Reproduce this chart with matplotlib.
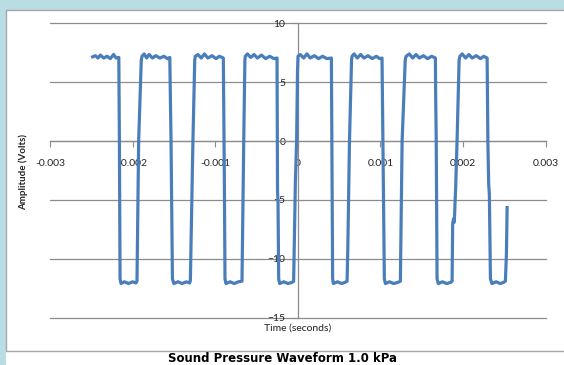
import numpy as np
import matplotlib.pyplot as plt
from matplotlib.patches import Rectangle

# waveform (time in ms, amplitude in volts)
time_ms = [
    -2.484, -2.45, -2.42, -2.39, -2.35, -2.31, -2.27, -2.23, -2.20, -2.167,
    -2.160, -2.152, -2.14, -2.10, -2.05, -2.00, -1.96, -1.947,
    -1.927, -1.895, -1.886,
    -1.86, -1.83, -1.80, -1.76, -1.72, -1.67, -1.62, -1.58, -1.550,
    -1.535, -1.518, -1.50, -1.45, -1.40, -1.35, -1.31, -1.301,
    -1.270, -1.248, -1.241,
    -1.21, -1.17, -1.13, -1.09, -1.04, -0.99, -0.95, -0.902,
    -0.893, -0.890, -0.882, -0.87, -0.82, -0.77, -0.72, -0.676,
    -0.655, -0.641, -0.636,
    -0.61, -0.57, -0.53, -0.49, -0.44, -0.39, -0.34, -0.29, -0.252,
    -0.248, -0.246, -0.240, -0.232, -0.22, -0.17, -0.12, -0.07, -0.051,
    -0.039, -0.030, -0.015, -0.004, 0.002,
    0.03, 0.07, 0.11, 0.15, 0.20, 0.25, 0.30, 0.35, 0.406,
    0.412, 0.418, 0.421, 0.43, 0.48, 0.53, 0.57, 0.596,
    0.605, 0.625, 0.650, 0.656,
    0.68, 0.72, 0.76, 0.80, 0.85, 0.90, 0.95, 0.99, 1.019,
    1.030, 1.047, 1.06, 1.11, 1.16, 1.21, 1.241,
    1.262, 1.300, 1.310,
    1.35, 1.39, 1.43, 1.47, 1.52, 1.57, 1.62, 1.665,
    1.668, 1.675, 1.685, 1.70, 1.75, 1.80, 1.85, 1.867,
    1.874, 1.885, 1.892, 1.898, 1.902, 1.910, 1.927, 1.952, 1.962,
    1.99, 2.03, 2.07, 2.11, 2.16, 2.21, 2.25, 2.291,
    2.300, 2.310, 2.318, 2.331, 2.35, 2.40, 2.45, 2.49, 2.512,
    2.525, 2.533,
]
amplitude = [
    7.15, 7.25, 7.05, 7.3, 7.05, 7.2, 7.0, 7.35, 7.05, 7.1,
    0.0, -11.7, -12.1, -11.95, -12.1, -11.95, -12.05, -11.9,
    0.0, 6.9, 7.2,
    7.4, 7.05, 7.35, 7.05, 7.25, 7.05, 7.2, 7.0, 7.1,
    0.0, -11.7, -12.1, -11.95, -12.1, -11.95, -12.05, -11.85,
    0.0, 6.9, 7.2,
    7.35, 7.05, 7.4, 7.05, 7.25, 7.0, 7.2, 7.05,
    0.3, -2.8, -11.7, -12.1, -11.95, -12.1, -11.95, -11.9,
    0.0, 6.9, 7.2,
    7.4, 7.1, 7.35, 7.05, 7.3, 7.0, 7.2, 7.0, 7.05,
    -0.5, -4.3, -5.2, -11.7, -12.1, -11.95, -12.1, -12.0, -11.9,
    -7.0, -3.5, 0.0, 6.0, 7.2,
    7.35, 7.05, 7.4, 7.05, 7.25, 7.0, 7.2, 7.0, 7.05,
    0.0, -7.0, -11.7, -12.1, -11.95, -12.1, -12.0, -11.9,
    -9.0, 0.0, 6.9, 7.2,
    7.4, 7.05, 7.35, 7.05, 7.25, 7.0, 7.2, 7.0, 7.05,
    0.0, -11.7, -12.1, -11.95, -12.1, -12.0, -11.9,
    0.0, 6.9, 7.2,
    7.4, 7.05, 7.35, 7.05, 7.25, 7.0, 7.2, 7.05,
    4.0, 0.0, -11.7, -12.1, -11.95, -12.1, -12.0, -11.9,
    -7.0, -6.6, -6.9, -6.2, -5.3, -4.0, 0.0, 6.9, 7.2,
    7.4, 7.05, 7.35, 7.05, 7.25, 7.0, 7.2, 7.05,
    0.0, -3.7, -4.5, -11.7, -12.1, -11.95, -12.1, -12.0, -11.9,
    -9.5, -5.65,
]

x_ticks = [-0.003, -0.002, -0.001, 0, 0.001, 0.002, 0.003]
x_tick_labels = ['-0.003', '-0.002', '-0.001', '0', '0.001', '0.002', '0.003']
y_ticks = [-15, -10, -5, 0, 5, 10]

W, H = 564, 365
grey = '#8c8c8c'
blue_bg = '#b8dde2'

fig = plt.figure(figsize=(W / 100, H / 100), dpi=100)
fig.patch.set_facecolor('white')

# light blue strips at left and top, grey border of the chart box
fig.patches.append(Rectangle((0, 0), 6 / W, 1, transform=fig.transFigure,
                             facecolor=blue_bg, edgecolor='none', zorder=0))
fig.patches.append(Rectangle((0, 1 - 10 / H), 1, 10 / H, transform=fig.transFigure,
                             facecolor=blue_bg, edgecolor='none', zorder=0))
fig.patches.append(Rectangle((6 / W, 1 - 350.5 / H), 1.2, (350.5 - 10) / H,
                             transform=fig.transFigure, fill=False,
                             edgecolor='#a8a8a8', lw=1, zorder=1))

ax = fig.add_axes([50 / W, (H - 317.7) / H, (545.7 - 50) / W, (317.7 - 23.3) / H])
ax.set_facecolor('white')

for y in y_ticks:
    ax.axhline(y, color=grey, lw=0.9, zorder=1, clip_on=False)

ax.plot(np.array(time_ms) * 1e-3, amplitude, color='#4a7ebb', lw=2.3,
        solid_joinstyle='round', zorder=3)

ax.set_xlim(-0.003, 0.003)
ax.set_ylim(-15, 10)

ax.spines['top'].set_visible(False)
ax.spines['right'].set_visible(False)
ax.spines['left'].set_position(('data', 0))
ax.spines['bottom'].set_position(('data', 0))
for s in ('left', 'bottom'):
    ax.spines[s].set_color(grey)
    ax.spines[s].set_linewidth(0.9)

ax.set_xticks(x_ticks)
ax.set_xticklabels(x_tick_labels)
ax.set_yticks(y_ticks)
ax.tick_params(axis='x', direction='out', length=4, pad=9, color=grey,
               labelsize=7.5, labelcolor='#222222')
ax.tick_params(axis='y', direction='out', length=4, pad=5, color=grey,
               labelsize=7.5, labelcolor='#222222')
for lab in ax.get_xticklabels() + ax.get_yticklabels():
    lab.set_family('Lato')

fig.text(297.5 / W, 1 - 328.3 / H, 'Time (seconds)', ha='center', va='center',
         fontsize=7.5, family='Lato', color='#222222')
fig.text(23 / W, 1 - 171.5 / H, 'Amplitude (Volts)', ha='center', va='center',
         rotation=90, fontsize=7, fontweight='bold', family='Lato', color='#222222')
fig.text(283 / W, 1 - 359 / H, 'Sound Pressure Waveform 1.0 kPa', ha='center',
         va='center', fontsize=8.5, fontweight='bold', family='DejaVu Sans',
         color='black')

fig.savefig('out.png', dpi=100)
